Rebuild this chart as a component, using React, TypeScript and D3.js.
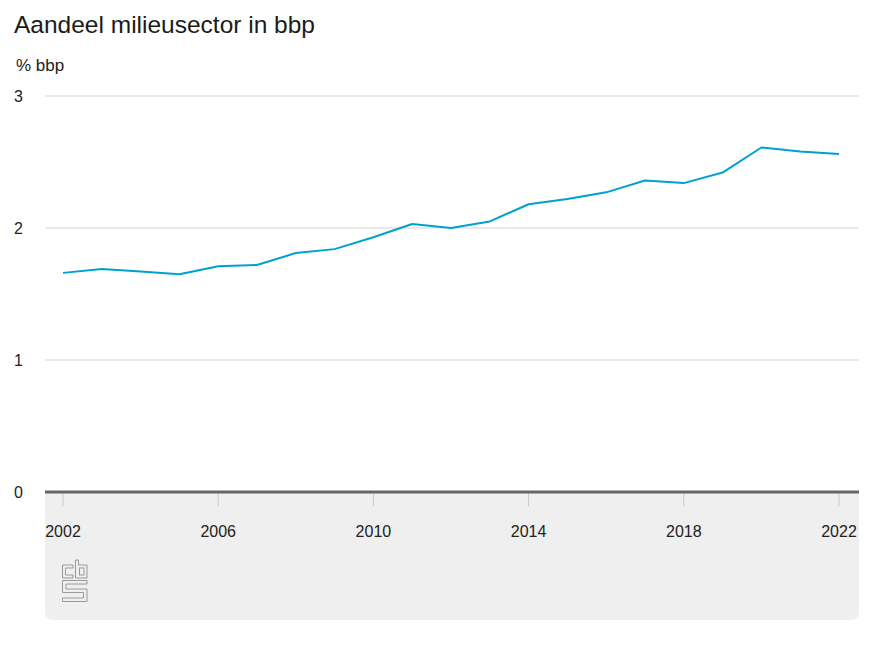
import React from "react";
import * as d3 from "d3";

const years = [2002, 2003, 2004, 2005, 2006, 2007, 2008, 2009, 2010, 2011, 2012, 2013, 2014, 2015, 2016, 2017, 2018, 2019, 2020, 2021, 2022];
const share = [1.66, 1.69, 1.67, 1.65, 1.71, 1.72, 1.81, 1.84, 1.93, 2.03, 2.0, 2.05, 2.18, 2.22, 2.27, 2.36, 2.34, 2.42, 2.61, 2.58, 2.56];
const yTicks = [0, 1, 2, 3];
const xTicks = [2002, 2006, 2010, 2014, 2018, 2022];
const title = "Aandeel milieusector in bbp";
const unit = "% bbp";

const W = 874;
const H = 656;
const FONT = "'Liberation Sans', Arial, sans-serif";

export default function App() {
  const x = d3.scaleLinear().domain([2002, 2022]).range([63, 839]);
  const y = d3.scaleLinear().domain([0, 3]).range([492, 96]);
  const line = d3
    .line<number>()
    .x((_, i) => x(years[i]))
    .y((d) => y(d));
  const panelTop = y(0);
  const panelBottom = 620;
  const left = 45;
  const right = 859;
  const r = 8;
  const panelPath = `M${left},${panelTop} H${right} V${panelBottom - r} Q${right},${panelBottom} ${right - r},${panelBottom} H${left + r} Q${left},${panelBottom} ${left},${panelBottom - r} Z`;

  return (
    <svg width={W} height={H} style={{ position: "absolute", left: 0, top: 0, background: "#fff" }} fontFamily={FONT}>
      <text x={14} y={33} fontSize={24.5} fill="#1a1a1a">{title}</text>
      <text x={16} y={71} fontSize={17} fill="#222">{unit}</text>
      <path d={panelPath} fill="#efefef" />
      {yTicks.filter((t) => t > 0).map((t) => (
        <line key={t} x1={left} x2={right} y1={y(t)} y2={y(t)} stroke="#d3d3d3" strokeWidth={1} />
      ))}
      {yTicks.map((t) => (
        <text key={t} x={14} y={y(t) + 6} fontSize={16} fill="#222">{t}</text>
      ))}
      {xTicks.map((t) => (
        <g key={t}>
          <line x1={x(t)} x2={x(t)} y1={y(0)} y2={y(0) + 14} stroke="#c8c8c8" strokeWidth={1} />
          <text x={x(t)} y={537} fontSize={16} fill="#222" textAnchor="middle">{t}</text>
        </g>
      ))}
      <line x1={left} x2={right} y1={y(0)} y2={y(0)} stroke="#666" strokeWidth={3} />
      <path d={line(share) || ""} fill="none" stroke="#00a1cd" strokeWidth={2} strokeLinejoin="round" />
      <g fill="none" stroke="#9a9a9a" strokeWidth={1}>
        <path d="M73,565 H62.5 V578 H73 V575 H65.5 V568 H73 Z" />
        <path d="M75.5,560 V578 H87 V565 H78.5 V560 Z" />
        <rect x={79.5} y={568} width={4.5} height={7} />
        <path d="M62.5,580.5 H87 V584 H66 V589 H87 V601.5 H62.5 V598 H83.5 V592.5 H62.5 Z" />
      </g>
    </svg>
  );
}
